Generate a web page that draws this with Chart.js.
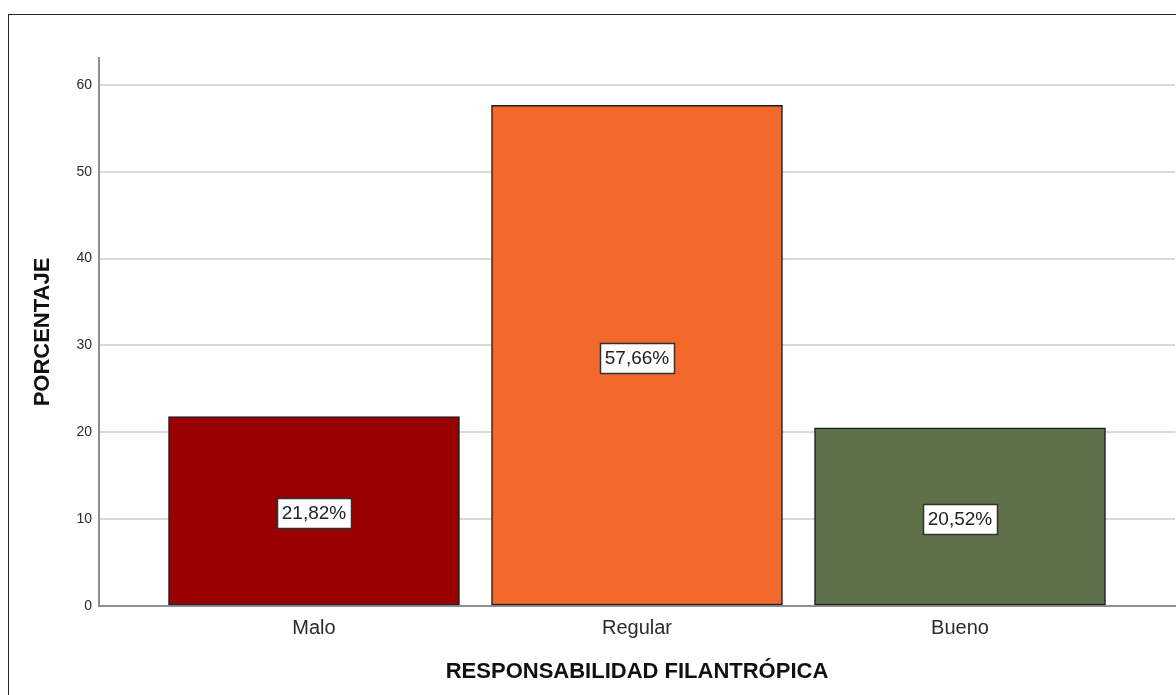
<!DOCTYPE html>
<html lang="es">
<head>
<meta charset="utf-8">
<title>Responsabilidad filantrópica</title>
<script src="https://cdn.jsdelivr.net/npm/chart.js@4.4.1/dist/chart.umd.min.js"></script>
<style>
  html, body { margin: 0; padding: 0; background: #ffffff; }
  body { width: 1176px; height: 695px; overflow: hidden; position: relative; }
  #frame {
    position: absolute; left: 8px; top: 14px;
    width: 1400px; height: 900px;
    border: 1px solid #262626; box-sizing: border-box;
  }
  #chart { position: absolute; left: 0; top: 0; }
</style>
</head>
<body>
<div id="frame"></div>
<canvas id="chart" width="1176" height="695"></canvas>
<script>
// Categorías y porcentajes
const categories = ['Malo', 'Regular', 'Bueno'];
const percentages = [21.82, 57.66, 20.52];
const barColors = ['#990000', '#F3692C', '#5D7048'];
const yTickStep = 10;
const yMax = 63.1;

const FONT = "'Liberation Sans', Arial, sans-serif";

// Etiqueta con el valor en el centro de cada barra
const valueBoxes = {
  id: 'valueBoxes',
  afterDatasetsDraw(chart) {
    const ctx = chart.ctx;
    const meta = chart.getDatasetMeta(0);
    ctx.save();
    ctx.font = '19px ' + FONT;
    ctx.textAlign = 'center';
    ctx.textBaseline = 'middle';
    meta.data.forEach((bar, i) => {
      const text = percentages[i].toFixed(2).replace('.', ',') + '%';
      const cx = bar.x;
      const cy = (bar.y + bar.base) / 2 + 2.5;
      const w = ctx.measureText(text).width + 10;
      const h = 30;
      ctx.fillStyle = '#ffffff';
      ctx.fillRect(Math.round(cx - w / 2) + 0.5, Math.round(cy - h / 2) + 0.5, Math.round(w), h);
      ctx.strokeStyle = '#303030';
      ctx.lineWidth = 1.5;
      ctx.strokeRect(Math.round(cx - w / 2) + 0.5, Math.round(cy - h / 2) + 0.5, Math.round(w), h);
      ctx.fillStyle = '#222222';
      ctx.fillText(text, cx, cy + 1);
    });
    ctx.restore();
  }
};

new Chart(document.getElementById('chart'), {
  type: 'bar',
  data: {
    datasets: [{
      data: categories.map((c, i) => ({ x: i, y: percentages[i] })),
      backgroundColor: barColors,
      borderColor: '#1e1e1e',
      borderWidth: 1.5,
      borderSkipped: false,
      barThickness: 291
    }]
  },
  options: {
    responsive: false,
    animation: false,
    layout: { padding: { left: 0, top: 58, right: 1, bottom: 0 } },
    plugins: {
      legend: { display: false },
      tooltip: { enabled: false },
      title: { display: false }
    },
    scales: {
      x: {
        type: 'linear',
        position: 'bottom',
        bounds: 'data',
        offset: false,
        min: -0.6656,
        max: 2.6656,
        afterFit(scale) { scale.height = 89; },
        afterBuildTicks(scale) {
          scale.ticks = categories.map((c, i) => ({ value: i }));
        },
        grid: { display: false, drawTicks: false },
        border: { display: true, color: '#8f8f8f', width: 2 },
        ticks: {
          stepSize: 1,
          includeBounds: false,
          autoSkip: false,
          maxRotation: 0,
          padding: 10,
          color: '#2b2b2b',
          font: { family: FONT, size: 20 },
          callback: (v) => Number.isInteger(v) && categories[v] !== undefined ? categories[v] : ''
        },
        title: {
          display: true,
          text: 'RESPONSABILIDAD FILANTRÓPICA',
          color: '#111111',
          font: { family: FONT, size: 22, weight: 'bold' },
          padding: { top: 0, bottom: 10 }
        }
      },
      y: {
        min: 0,
        max: yMax,
        afterFit(scale) { scale.width = 99; },
        grid: {
          drawTicks: false,
          lineWidth: 2,
          color: (ctx) => ctx.tick && ctx.tick.value === 0 ? 'rgba(0,0,0,0)' : '#d9d9d9'
        },
        border: { display: true, color: '#8f8f8f', width: 2 },
        ticks: {
          stepSize: yTickStep,
          includeBounds: false,
          padding: 7,
          color: '#2b2b2b',
          font: { family: FONT, size: 14 }
        },
        title: {
          display: true,
          text: 'PORCENTAJE',
          color: '#111111',
          font: { family: FONT, size: 22, weight: 'bold' },
          padding: { top: 30, bottom: 0 }
        }
      }
    }
  },
  plugins: [valueBoxes]
});
</script>
</body>
</html>
